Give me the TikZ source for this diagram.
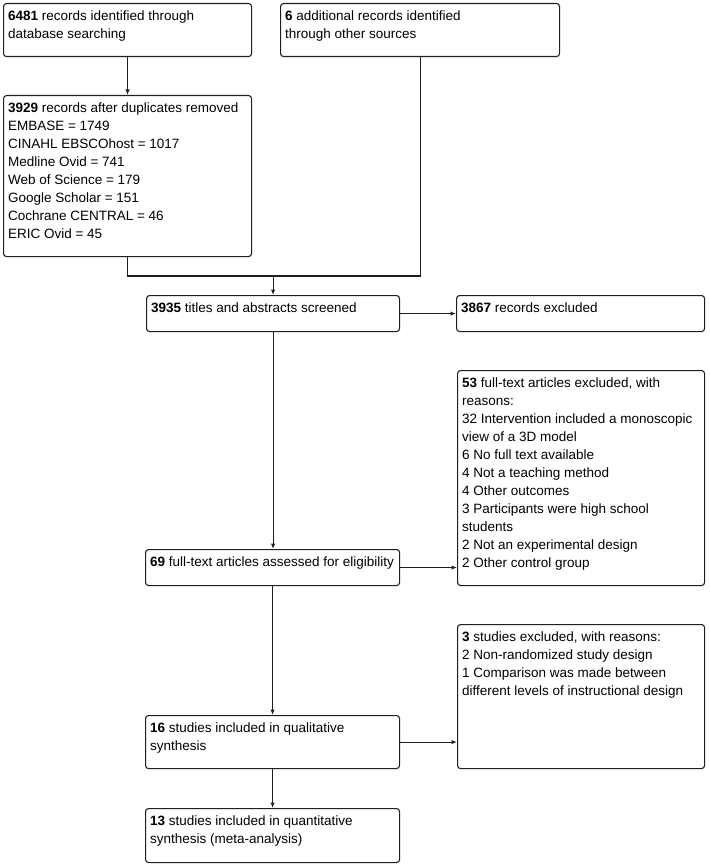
\documentclass[tikz,border=0pt]{standalone}
\usepackage{fontspec}
\setmainfont{Liberation Sans}
\usetikzlibrary{arrows.meta,calc}
\tikzset{
  bx/.style={draw=black!88, line width=1.1pt, rounded corners=3pt, anchor=north west,
    inner xsep=4.5pt, inner ysep=4.4pt, font=\fontsize{13.5}{18}\selectfont, text=black},
  conn/.style={draw=black!88, line width=1.1pt},
  arr/.style={conn, -{Latex[length=5.5pt,width=4.5pt]}}
}
\newcommand{\mybox}[6]{%
  \node[bx] (#1) at (#2,#3) {\parbox[c][\dimexpr #5pt-#3pt-8.8pt\relax][t]{\dimexpr #4pt-#2pt-9pt\relax}{\raggedright\strut #6}};}
\begin{document}
\begin{tikzpicture}[x=1pt,y=-1pt]
\useasboundingbox (0,0) rectangle (709,864);
\mybox{a}{3}{3}{251}{56}{\textbf{6481} records identified through\\database searching}
\mybox{b}{280}{3}{559}{56}{\textbf{6} additional records identified\\through other sources}
\mybox{c}{3}{95}{251}{256}{\textbf{3929} records after duplicates removed\\EMBASE = 1749\\CINAHL EBSCOhost = 1017\\Medline Ovid = 741\\Web of Science = 179\\Google Scholar = 151\\Cochrane CENTRAL = 46\\ERIC Ovid = 45}
\mybox{d}{146}{295}{399}{331}{\textbf{3935} titles and abstracts screened}
\mybox{e}{456}{295}{704}{331}{\textbf{3867} records excluded}
\mybox{f}{457}{370}{704}{585}{\textbf{53} full-text articles excluded, with\\reasons:\\32 Intervention included a monoscopic\\view of a 3D model\\6 No full text available\\4 Not a teaching method\\4 Other outcomes\\3 Participants were high school\\students\\2 Not an experimental design\\2 Other control group}
\mybox{g}{145}{549}{399}{585}{\textbf{69} full-text articles assessed for eligibility}
\mybox{h}{457}{624}{704}{768}{\textbf{3} studies excluded, with reasons:\\2 Non-randomized study design\\1 Comparison was made between\\different levels of instructional design}
\mybox{i}{145}{715}{399}{768}{\textbf{16} studies included in qualitative\\synthesis}
\mybox{j}{145}{808}{399}{862}{\textbf{13} studies included in quantitative\\synthesis (meta-analysis)}
\path (d.north) ++(0,-19) coordinate (jn);
\draw[arr] (a.south) -- (c.north);
\draw[conn] (c.south) -- (c.south |- jn) -- (b.south |- jn) -- (b.south);
\draw[arr] (jn) -- (d.north);
\draw[arr] (d.south) -- (d.south |- g.north);
\draw[arr] (g.south) -- (g.south |- i.north);
\draw[arr] (i.south) -- (i.south |- j.north);
\draw[arr] (d.east) -- (d.east -| e.west);
\draw[arr] (g.east) -- (g.east -| f.west);
\draw[arr] (i.east) -- (i.east -| h.west);
\end{tikzpicture}
\end{document}
